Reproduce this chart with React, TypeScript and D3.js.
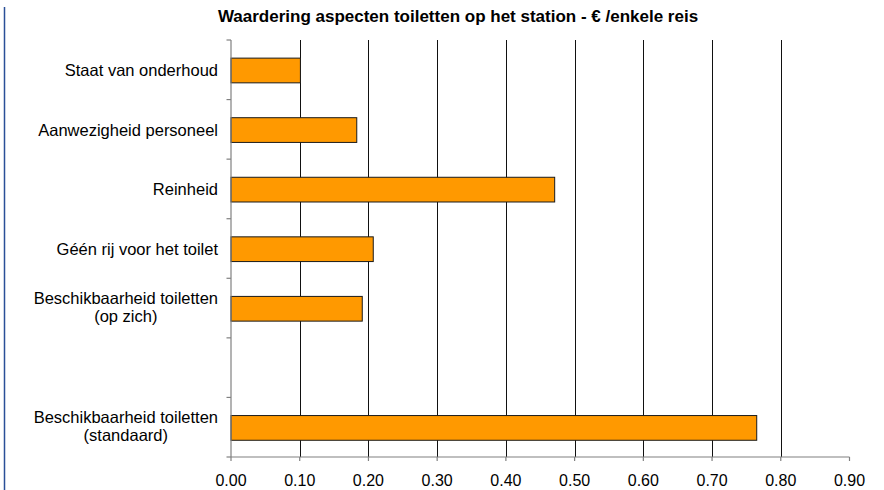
import React, { useMemo } from "react";
import * as d3 from "d3";

const title = "Waardering aspecten toiletten op het station - € /enkele reis";
const categories = [
  "Staat van onderhoud",
  "Aanwezigheid personeel",
  "Reinheid",
  "Géén rij voor het toilet",
  "Beschikbaarheid toiletten\n(op zich)",
  "",
  "Beschikbaarheid toiletten\n(standaard)",
];
const values: (number | null)[] = [0.101, 0.183, 0.471, 0.207, 0.191, null, 0.765];
const xTicks = [0, 0.1, 0.2, 0.3, 0.4, 0.5, 0.6, 0.7, 0.8, 0.9];
const gridTicks = [0.1, 0.2, 0.3, 0.4, 0.5, 0.6, 0.7, 0.8];

const W = 884;
const H = 490;
const FONT = "'Liberation Sans', Arial, sans-serif";
const LABEL_SIZE = 16.5;

function measure(text: string, font: string): number {
  if (typeof document === "undefined") return text.length * 8;
  const c = document.createElement("canvas");
  const ctx = c.getContext("2d");
  if (!ctx) return text.length * 8;
  ctx.font = font;
  return ctx.measureText(text).width;
}

export default function App() {
  const margin = { left: 231, right: 35, top: 40, bottom: 33 };
  const x = d3.scaleLinear().domain([0, 0.9]).range([margin.left, 849.5]);
  const y = d3
    .scaleBand<string>()
    .domain(categories.map((_, i) => String(i)))
    .range([margin.top, H - margin.bottom])
    .paddingInner(0)
    .paddingOuter(0);
  const step = y.bandwidth();
  const barH = step * 0.415;
  const fmt = d3.format(".2f");
  const labelRight = 218;

  const labelFont = `${LABEL_SIZE}px 'Liberation Sans', Arial, sans-serif`;
  const widths = useMemo(
    () => categories.map((c) => Math.max(...c.split("\n").map((l) => measure(l, labelFont)))),
    []
  );

  const bottom = H - margin.bottom;

  return (
    <svg
      width={W}
      height={H}
      style={{ position: "absolute", left: 0, top: 0, background: "#fff" }}
      fontFamily={FONT}
    >
      <rect x={0} y={0} width={W} height={H} fill="#fff" />
      <line x1={4.5} x2={4.5} y1={7} y2={H} stroke="#2a4f98" strokeWidth={1.5} />
      <text x={458} y={22} textAnchor="middle" fontWeight="bold" fontSize={17} fill="#000">
        {title}
      </text>

      {gridTicks.map((t) => (
        <line
          key={"g" + t}
          x1={Math.round(x(t)) + 0.5}
          x2={Math.round(x(t)) + 0.5}
          y1={margin.top}
          y2={bottom}
          stroke="#111"
          strokeWidth={1}
        />
      ))}

      {values.map((v, i) =>
        v == null ? null : (
          <rect
            key={"b" + i}
            x={x(0)}
            y={(y(String(i)) as number) + step / 2 - barH / 2 + 0.7}
            width={x(v) - x(0)}
            height={barH}
            fill="#ff9900"
            stroke="#1a1a1a"
            strokeWidth={1}
          />
        )
      )}

      {/* y axis */}
      <line x1={x(0)} x2={x(0)} y1={margin.top} y2={bottom} stroke="#808080" strokeWidth={1.2} />
      {d3.range(categories.length + 1).map((i) => {
        const yy = margin.top + i * step;
        return <line key={"yt" + i} x1={x(0) - 4.5} x2={x(0)} y1={yy} y2={yy} stroke="#808080" strokeWidth={1.2} />;
      })}

      {/* x axis */}
      <line x1={x(0)} x2={x(0.9)} y1={bottom} y2={bottom} stroke="#808080" strokeWidth={1.2} />
      {xTicks.map((t) => (
        <g key={"xt" + t}>
          <line x1={x(t)} x2={x(t)} y1={bottom} y2={bottom + 4} stroke="#808080" strokeWidth={1.2} />
          <text x={x(t)} y={bottom + 29} textAnchor="middle" fontSize={16} fill="#000">
            {fmt(t)}
          </text>
        </g>
      ))}

      {/* category labels */}
      {categories.map((c, i) => {
        if (!c) return null;
        const lines = c.split("\n");
        const cy = (y(String(i)) as number) + step / 2;
        if (lines.length === 1) {
          return (
            <text key={"l" + i} x={labelRight} y={cy + 6.5} textAnchor="end" fontSize={LABEL_SIZE} fill="#000">
              {c}
            </text>
          );
        }
        const cx = labelRight - widths[i] / 2;
        return (
          <text key={"l" + i} x={cx} textAnchor="middle" fontSize={LABEL_SIZE} fill="#000">
            {lines.map((l, k) => (
              <tspan key={k} x={cx} y={cy - 4 + k * 17.5}>
                {l}
              </tspan>
            ))}
          </text>
        );
      })}
    </svg>
  );
}
